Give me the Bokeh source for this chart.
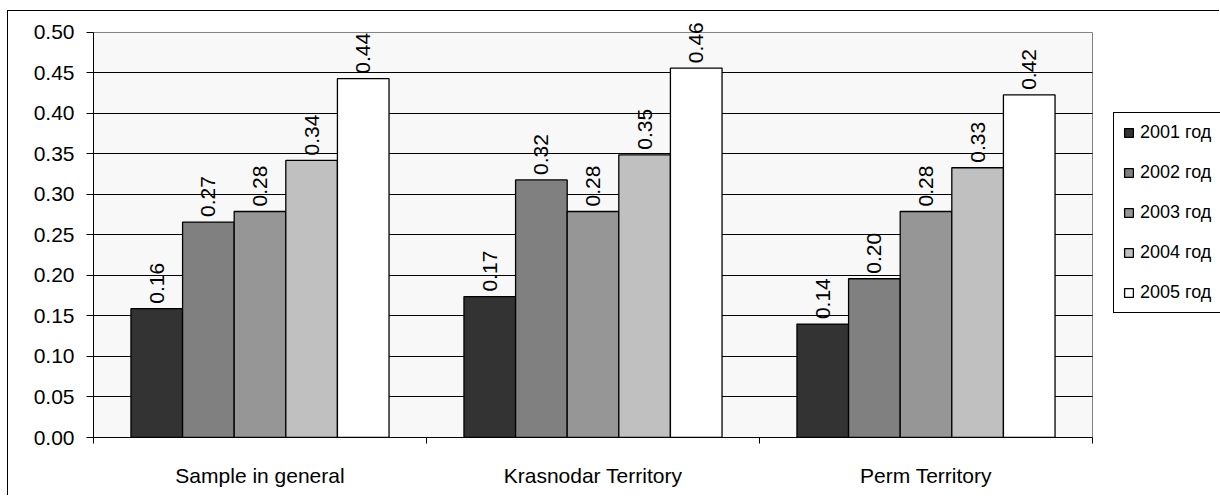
import math
from bokeh.plotting import figure
from bokeh.core.properties import value
from bokeh.models import (ColumnDataSource, FixedTicker, LabelSet, Range1d,
                          PrintfTickFormatter, Legend, LegendItem)
from bokeh.transform import dodge
from bokeh.embed import file_html
from bokeh.resources import INLINE

categories = ["Sample in general", "Krasnodar Territory", "Perm Territory"]
years = ["2001 год", "2002 год", "2003 год", "2004 год", "2005 год"]
sample_in_general = [0.159, 0.266, 0.279, 0.342, 0.443]
krasnodar_territory = [0.174, 0.318, 0.279, 0.349, 0.456]
perm_territory = [0.140, 0.196, 0.279, 0.333, 0.423]
colors = ["#333333", "#808080", "#969696", "#c0c0c0", "#ffffff"]
y_ticks = [0.0, 0.05, 0.10, 0.15, 0.20, 0.25, 0.30, 0.35, 0.40, 0.45, 0.50]

FONT = "Liberation Sans"
BAR_W = 0.155
offsets = [-2 * BAR_W, -BAR_W, 0.0, BAR_W, 2 * BAR_W]
n_cat = len(categories)
y_max = y_ticks[-1]

# the frame extends beyond the value area (up for the rotated labels,
# right for the legend); the value area itself is drawn as a quad
x_end = n_cat * 1127 / 999
p = figure(width=1212, height=485,
           x_range=Range1d(0, x_end), y_range=Range1d(0, y_max + 0.0259),
           output_backend="svg", toolbar_location=None,
           min_border_left=85, min_border_top=0,
           min_border_right=0, min_border_bottom=59)
p.styles = {"margin-left": "7px", "margin-top": "10px",
            "border-left": "1px solid black", "border-top": "1px solid black"}
p.background_fill_color = "white"
p.border_fill_color = "white"
p.outline_line_color = None

# plot area background
p.quad(left=0, right=n_cat, bottom=0, top=y_max, fill_color="#f8f8f8",
       line_color="#808080", line_width=1, level="image")

series = list(zip(sample_in_general, krasnodar_territory, perm_territory))
centers = [i + 0.5 for i in range(n_cat)]

items = []
for k, year in enumerate(years):
    vals = list(series[k])
    src = ColumnDataSource(dict(x=centers, top=vals,
                                label=[f"{v:.2f}" for v in vals]))
    r = p.vbar(x=dodge("x", offsets[k]), top="top", width=BAR_W, source=src,
               fill_color=colors[k], line_color="black", line_width=1.3)
    items.append(LegendItem(label=year, renderers=[r]))
    p.add_layout(LabelSet(x=dodge("x", offsets[k]), y="top", text="label", source=src,
                          angle=math.pi / 2, text_align="left", text_baseline="middle",
                          y_offset=5, text_font=value(FONT), text_font_size=value("21px"),
                          text_color="black"))

# y axis
p.yaxis.bounds = (0, y_max)
p.yaxis.ticker = FixedTicker(ticks=y_ticks)
p.yaxis.formatter = PrintfTickFormatter(format="%.2f")
p.yaxis.major_label_text_font = FONT
p.yaxis.major_label_text_font_size = "21px"
p.yaxis.major_label_text_color = "black"
p.yaxis.axis_line_color = "black"
p.yaxis.major_tick_line_color = "black"
p.yaxis.major_tick_out = 7
p.yaxis.major_tick_in = 0
p.yaxis.minor_tick_line_color = None
p.yaxis.major_label_standoff = 12

# x axis
p.xaxis.bounds = (0, n_cat)
p.xaxis.ticker = FixedTicker(ticks=centers, minor_ticks=list(range(n_cat + 1)))
p.xaxis.major_label_overrides = {c: name for c, name in zip(centers, categories)}
p.xaxis.major_label_text_font = FONT
p.xaxis.major_label_text_font_size = "21px"
p.xaxis.major_label_text_color = "black"
p.xaxis.axis_line_color = "black"
p.xaxis.major_tick_line_color = None
p.xaxis.major_tick_out = 0
p.xaxis.major_tick_in = 0
p.xaxis.minor_tick_line_color = "black"
p.xaxis.minor_tick_out = 6
p.xaxis.minor_tick_in = 0
p.xaxis.major_label_standoff = 20

# grid
p.xgrid.visible = False
p.ygrid.ticker = FixedTicker(ticks=y_ticks[1:-1])
p.ygrid.grid_line_color = "black"
p.ygrid.grid_line_width = 1
try:
    p.ygrid.cross_bounds = (0, n_cat)
except AttributeError:
    p.ygrid.visible = False
    p.segment(x0=0, x1=n_cat, y0=y_ticks[1:-1], y1=y_ticks[1:-1],
              line_color="black", line_width=1, level="image")

# legend
lg = Legend(items=items, location=(1020, 124))
lg.border_line_color = "black"
lg.border_line_alpha = 1.0
lg.border_line_width = 1
lg.background_fill_color = "white"
lg.background_fill_alpha = 1
lg.label_text_font = FONT
lg.label_text_font_size = "18px"
lg.label_text_color = "black"
lg.glyph_width = 11
lg.glyph_height = 11
lg.label_height = 21
lg.label_width = 90
lg.label_standoff = 6
lg.padding = 9
lg.spacing = 19
lg.margin = 0
p.add_layout(lg)

open("out.html", "w").write(file_html(p, INLINE))
